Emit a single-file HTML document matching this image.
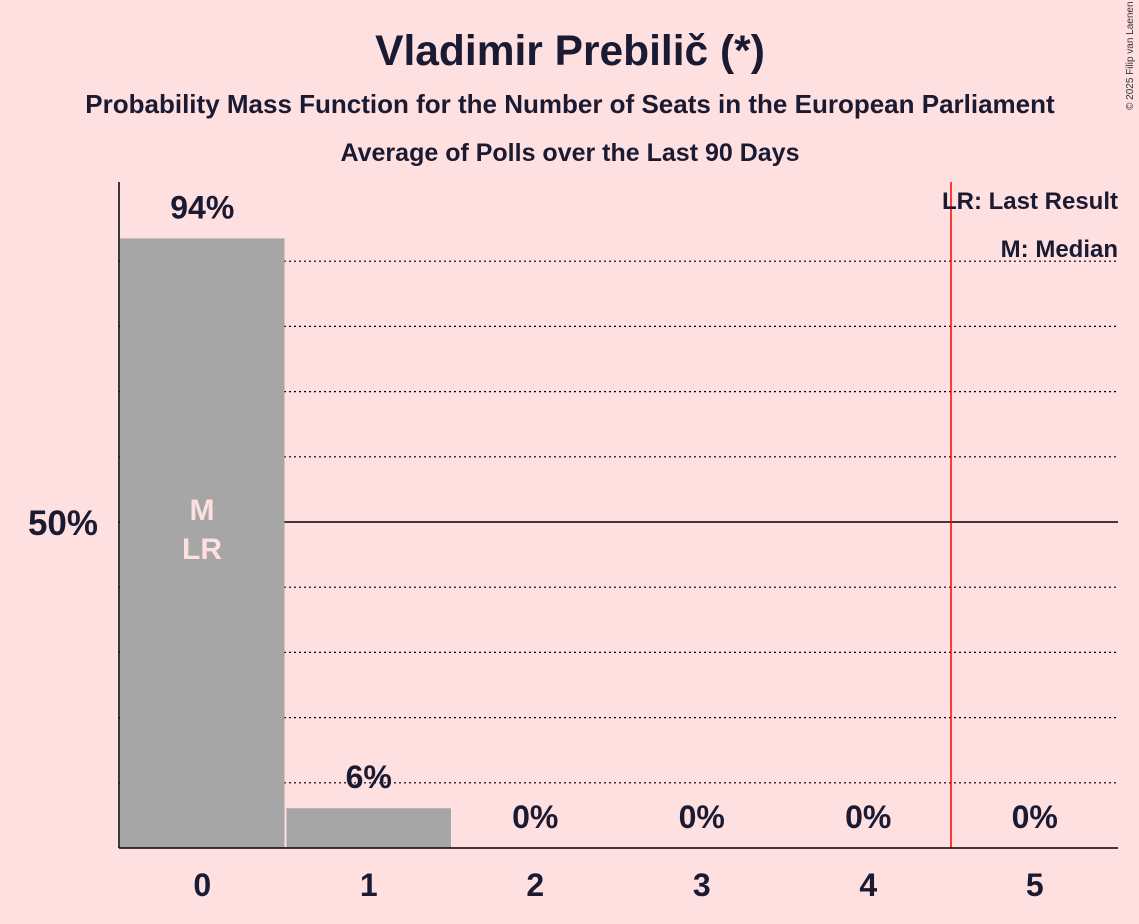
<!DOCTYPE html>
<html><head><meta charset="utf-8"><style>
body{margin:0;background:#ffe0e0;}
svg{display:block;font-family:"Liberation Sans",sans-serif;}
</style></head><body>
<svg id="chart" width="1139" height="924">
<rect width="1139" height="924" fill="#ffe0e0"/>
<text x="570" y="65" text-anchor="middle" font-size="42.5" font-weight="bold" fill="#1a1a33">Vladimir Prebilič (*)</text>
<text x="570" y="113" text-anchor="middle" font-size="26" font-weight="bold" fill="#1a1a33">Probability Mass Function for the Number of Seats in the European Parliament</text>
<text x="570" y="161" text-anchor="middle" font-size="25" font-weight="bold" fill="#1a1a33">Average of Polls over the Last 90 Days</text>
<text x="1133" y="110" font-size="10" fill="#333" transform="rotate(-90 1133 110)">© 2025 Filip van Laenen</text>
<g id="grid"></g>
<g id="bars"></g>
<line x1="951" y1="182" x2="951" y2="848" stroke="#ff0000" stroke-width="1.5"/>
<line x1="119" y1="182" x2="119" y2="848" stroke="#000" stroke-width="1.5"/>
<line x1="119" y1="848" x2="1118" y2="848" stroke="#000" stroke-width="1.5"/>
<text x="98" y="535" text-anchor="end" font-size="35" font-weight="bold" fill="#1a1a33">50%</text>
<text x="1118" y="209" text-anchor="end" font-size="24" font-weight="bold" fill="#1a1a33">LR: Last Result</text>
<text x="1118" y="257" text-anchor="end" font-size="24" font-weight="bold" fill="#1a1a33">M: Median</text>
<text x="202" y="520" text-anchor="middle" font-size="30" font-weight="bold" fill="#ffe0e0">M</text>
<text x="202" y="559" text-anchor="middle" font-size="30" font-weight="bold" fill="#ffe0e0">LR</text>
</svg>
<script>
const categories=[0,1,2,3,4,5];
const values=[93.5,6.1,0,0,0,0];
const labels=["94%","6%","0%","0%","0%","0%"];
const gridTicks=[10,20,30,40,60,70,80,90];
const NS="http://www.w3.org/2000/svg";
const x0=119,x1=1118,y0=848,yPerPct=6.52;
const bw=(x1-x0)/categories.length;
const X=i=>x0+bw*i;
const Y=v=>y0-v*yPerPct;
const grid=document.getElementById('grid'),bars=document.getElementById('bars');
gridTicks.forEach(t=>{
 const l=document.createElementNS(NS,'line');
 l.setAttribute('x1',x0);l.setAttribute('x2',x1);l.setAttribute('y1',Y(t));l.setAttribute('y2',Y(t));
 l.setAttribute('stroke','#000');l.setAttribute('stroke-dasharray','2,3');l.setAttribute('stroke-width','1.2');
 
 
 grid.appendChild(l);
});
const m=document.createElementNS(NS,'line');
m.setAttribute('x1',x0);m.setAttribute('x2',x1);m.setAttribute('y1',Y(50));m.setAttribute('y2',Y(50));
m.setAttribute('stroke','#000');m.setAttribute('stroke-width','1.5');


grid.appendChild(m);
categories.forEach((c,i)=>{
 const v=values[i];
 if(v>0){
  const r=document.createElementNS(NS,'rect');
  r.setAttribute('x',X(i)+1);r.setAttribute('width',bw-2);
  r.setAttribute('y',Y(v));r.setAttribute('height',y0-Y(v));r.setAttribute('fill','#a6a6a6');
  
  
  bars.appendChild(r);
 }
 const t=document.createElementNS(NS,'text');
 t.setAttribute('x',X(i)+bw/2);t.setAttribute('y',Y(v)-20);
 t.setAttribute('text-anchor','middle');t.setAttribute('font-size','32');t.setAttribute('font-weight','bold');t.setAttribute('fill','#1a1a33');
 t.textContent=labels[i];
 
 
 bars.appendChild(t);
 const xt=document.createElementNS(NS,'text');
 xt.setAttribute('x',X(i)+bw/2);xt.setAttribute('y',y0+48);
 xt.setAttribute('text-anchor','middle');xt.setAttribute('font-size','32');xt.setAttribute('font-weight','bold');xt.setAttribute('fill','#1a1a33');
 xt.textContent=c;
 
 
 bars.appendChild(xt);
});
</script>
</body></html>
